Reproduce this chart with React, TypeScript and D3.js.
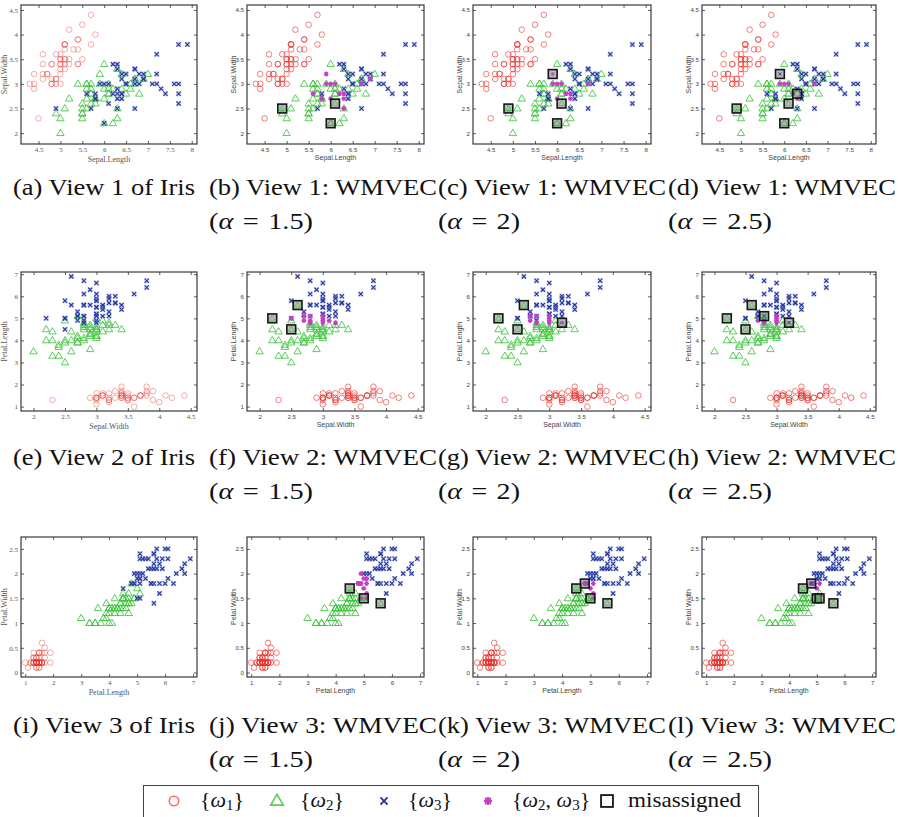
import React, { useEffect, useRef } from "react";
import * as d3 from "d3";

// Iris data, samples 1..150 (50 setosa, 50 versicolor, 50 virginica)
const sepalLength = [
  5.1, 4.9, 4.7, 4.6, 5.0, 5.4, 4.6, 5.0, 4.4, 4.9, 5.4, 4.8, 4.8, 4.3, 5.8, 5.7, 5.4, 5.1, 5.7, 5.1,
  5.4, 5.1, 4.6, 5.1, 4.8, 5.0, 5.0, 5.2, 5.2, 4.7, 4.8, 5.4, 5.2, 5.5, 4.9, 5.0, 5.5, 4.9, 4.4, 5.1,
  5.0, 4.5, 4.4, 5.0, 5.1, 4.8, 5.1, 4.6, 5.3, 5.0,
  7.0, 6.4, 6.9, 5.5, 6.5, 5.7, 6.3, 4.9, 6.6, 5.2, 5.0, 5.9, 6.0, 6.1, 5.6, 6.7, 5.6, 5.8, 6.2, 5.6,
  5.9, 6.1, 6.3, 6.1, 6.4, 6.6, 6.8, 6.7, 6.0, 5.7, 5.5, 5.5, 5.8, 6.0, 5.4, 6.0, 6.7, 6.3, 5.6, 5.5,
  5.5, 6.1, 5.8, 5.0, 5.6, 5.7, 5.7, 6.2, 5.1, 5.7,
  6.3, 5.8, 7.1, 6.3, 6.5, 7.6, 4.9, 7.3, 6.7, 7.2, 6.5, 6.4, 6.8, 5.7, 5.8, 6.4, 6.5, 7.7, 7.7, 6.0,
  6.9, 5.6, 7.7, 6.3, 6.7, 7.2, 6.2, 6.1, 6.4, 7.2, 7.4, 7.9, 6.4, 6.3, 6.1, 7.7, 6.3, 6.4, 6.0, 6.9,
  6.7, 6.9, 5.8, 6.8, 6.7, 6.7, 6.3, 6.5, 6.2, 5.9,
];
const sepalWidth = [
  3.5, 3.0, 3.2, 3.1, 3.6, 3.9, 3.4, 3.4, 2.9, 3.1, 3.7, 3.4, 3.0, 3.0, 4.0, 4.4, 3.9, 3.5, 3.8, 3.8,
  3.4, 3.7, 3.6, 3.3, 3.4, 3.0, 3.4, 3.5, 3.4, 3.2, 3.1, 3.4, 4.1, 4.2, 3.1, 3.2, 3.5, 3.6, 3.0, 3.4,
  3.5, 2.3, 3.2, 3.5, 3.8, 3.0, 3.8, 3.2, 3.7, 3.3,
  3.2, 3.2, 3.1, 2.3, 2.8, 2.8, 3.3, 2.4, 2.9, 2.7, 2.0, 3.0, 2.2, 2.9, 2.9, 3.1, 3.0, 2.7, 2.2, 2.5,
  3.2, 2.8, 2.5, 2.8, 2.9, 3.0, 2.8, 3.0, 2.9, 2.6, 2.4, 2.4, 2.7, 2.7, 3.0, 3.4, 3.1, 2.3, 3.0, 2.5,
  2.6, 3.0, 2.6, 2.3, 2.7, 3.0, 2.9, 2.9, 2.5, 2.8,
  3.3, 2.7, 3.0, 2.9, 3.0, 3.0, 2.5, 2.9, 2.5, 3.6, 3.2, 2.7, 3.0, 2.5, 2.8, 3.2, 3.0, 3.8, 2.6, 2.2,
  3.2, 2.8, 2.8, 2.7, 3.3, 3.2, 2.8, 3.0, 2.8, 3.0, 2.8, 3.8, 2.8, 2.8, 2.6, 3.0, 3.4, 3.1, 3.0, 3.1,
  3.1, 3.1, 2.7, 3.2, 3.3, 3.0, 2.5, 3.0, 3.4, 3.0,
];
const petalLength = [
  1.4, 1.4, 1.3, 1.5, 1.4, 1.7, 1.4, 1.5, 1.4, 1.5, 1.5, 1.6, 1.4, 1.1, 1.2, 1.5, 1.3, 1.4, 1.7, 1.5,
  1.7, 1.5, 1.0, 1.7, 1.9, 1.6, 1.6, 1.5, 1.4, 1.6, 1.6, 1.5, 1.5, 1.4, 1.5, 1.2, 1.3, 1.4, 1.3, 1.5,
  1.3, 1.3, 1.3, 1.6, 1.9, 1.4, 1.6, 1.4, 1.5, 1.4,
  4.7, 4.5, 4.9, 4.0, 4.6, 4.5, 4.7, 3.3, 4.6, 3.9, 3.5, 4.2, 4.0, 4.7, 3.6, 4.4, 4.5, 4.1, 4.5, 3.9,
  4.8, 4.0, 4.9, 4.7, 4.3, 4.4, 4.8, 5.0, 4.5, 3.5, 3.8, 3.7, 3.9, 5.1, 4.5, 4.5, 4.7, 4.4, 4.1, 4.0,
  4.4, 4.6, 4.0, 3.3, 4.2, 4.2, 4.2, 4.3, 3.0, 4.1,
  6.0, 5.1, 5.9, 5.6, 5.8, 6.6, 4.5, 6.3, 5.8, 6.1, 5.1, 5.3, 5.5, 5.0, 5.1, 5.3, 5.5, 6.7, 6.9, 5.0,
  5.7, 4.9, 6.7, 4.9, 5.7, 6.0, 4.8, 4.9, 5.6, 5.8, 6.1, 6.4, 5.6, 5.1, 5.6, 6.1, 5.6, 5.5, 4.8, 5.4,
  5.6, 5.1, 5.1, 5.9, 5.7, 5.2, 5.0, 5.2, 5.4, 5.1,
];
const petalWidth = [
  0.2, 0.2, 0.2, 0.2, 0.2, 0.4, 0.3, 0.2, 0.2, 0.1, 0.2, 0.2, 0.1, 0.1, 0.2, 0.4, 0.4, 0.3, 0.3, 0.3,
  0.2, 0.4, 0.2, 0.5, 0.2, 0.2, 0.4, 0.2, 0.2, 0.2, 0.2, 0.4, 0.1, 0.2, 0.2, 0.2, 0.2, 0.1, 0.2, 0.2,
  0.3, 0.3, 0.2, 0.6, 0.4, 0.3, 0.2, 0.2, 0.2, 0.2,
  1.4, 1.5, 1.5, 1.3, 1.5, 1.3, 1.6, 1.0, 1.3, 1.4, 1.0, 1.5, 1.0, 1.4, 1.3, 1.4, 1.5, 1.0, 1.5, 1.1,
  1.8, 1.3, 1.5, 1.2, 1.3, 1.4, 1.4, 1.7, 1.5, 1.0, 1.1, 1.0, 1.2, 1.6, 1.5, 1.6, 1.5, 1.3, 1.3, 1.3,
  1.2, 1.4, 1.2, 1.0, 1.3, 1.2, 1.3, 1.3, 1.1, 1.3,
  2.5, 1.9, 2.1, 1.8, 2.2, 2.1, 1.7, 1.8, 1.8, 2.5, 2.0, 1.9, 2.1, 2.0, 2.4, 2.3, 1.8, 2.2, 2.3, 1.5,
  2.3, 2.0, 2.0, 1.8, 2.1, 1.8, 1.8, 1.8, 2.1, 1.6, 1.9, 2.0, 2.2, 1.5, 1.4, 2.3, 2.4, 1.8, 1.8, 2.1,
  2.4, 2.3, 1.9, 2.3, 2.5, 2.3, 1.9, 2.0, 2.3, 1.8,
];
const classSizes = [50, 50, 50];

// WMVEC results, sample numbers (1-based)
const alphas = ["1.5", "2", "2.5"];
const ambiguous15 = [53, 71, 78, 84, 102, 122, 124, 127, 128, 134, 139, 143, 147, 150];
const ambiguous2 = [78, 84, 124, 127, 128, 134, 139, 150];
const ambiguous25 = [78, 124, 127, 128, 139, 150];
const misassigned15 = [107, 120, 135];
const misLabels15 = ["w2", "w2", "w2"];
const misassigned2 = [71, 107, 120, 135];
const misLabels2 = ["w23", "w2", "w2", "w2"];
const misassigned25 = [71, 107, 120, 134, 135];
const misLabels25 = ["w3", "w2", "w2", "w2", "w2"];

// views
const viewX = [sepalLength, sepalWidth, petalLength];
const viewY = [sepalWidth, petalLength, petalWidth];
const xLabels = ["Sepal.Length", "Sepal.Width", "Petal.Length"];
const yLabels = ["Sepal.Width", "Petal.Length", "Petal.Width"];
const xDomains = [[4.1, 8.12], [1.8, 4.6], [0.85, 7.14]];
const yDomains = [[1.78, 4.6], [0.8, 7.1], [-0.09, 2.74]];
const xTicks = [
  [4.5, 5, 5.5, 6, 6.5, 7, 7.5, 8],
  [2, 2.5, 3, 3.5, 4, 4.5],
  [1, 2, 3, 4, 5, 6, 7],
];
const yTicks = [
  [2, 2.5, 3, 3.5, 4, 4.5],
  [1, 2, 3, 4, 5, 6, 7],
  [0, 0.5, 1, 1.5, 2, 2.5],
];

const colLeft = [21, 247, 473, 702];
const colRight = [197, 424, 651, 876];
const rowTop = [5, 272, 537];
const rowBottom = [144, 411, 677];
const capX = [13, 209, 438, 668];
const capY = [195, 465, 733];

const SERIF = "'Liberation Serif', 'DejaVu Serif', serif";
const SANS = "'Liberation Sans', Arial, Helvetica, sans-serif";

const RED = "#e8352e";
const GREEN = "#3ec63e";
const BLUE = "#22339b";
const PURPLE = "#c53ec5";

function marker(g, kind, cx, cy, faded, s = 1) {
  if (kind === "w1") {
    g.append("circle")
      .attr("cx", cx).attr("cy", cy).attr("r", 2.8 * s)
      .attr("fill", "none").attr("stroke", RED)
      .attr("stroke-width", 0.9 * s)
      .attr("stroke-opacity", faded ? 0.45 : 0.7);
  } else if (kind === "w2") {
    g.append("path")
      .attr("d", `M${cx},${cy - 3.9 * s}L${cx + 3.7 * s},${cy + 2.4 * s}L${cx - 3.7 * s},${cy + 2.4 * s}Z`)
      .attr("fill", "none").attr("stroke", GREEN)
      .attr("stroke-width", 1 * s)
      .attr("stroke-opacity", 0.85);
  } else if (kind === "w3") {
    const h = 2.1 * s;
    if (s === 1)
      g.append("rect")
        .attr("x", cx - 2.6).attr("y", cy - 2.6).attr("width", 5.2).attr("height", 5.2)
        .attr("fill", "#8898e0").attr("fill-opacity", 0.35);
    g.append("path")
      .attr("d", `M${cx - h},${cy - h}L${cx + h},${cy + h}M${cx - h},${cy + h}L${cx + h},${cy - h}`)
      .attr("stroke", BLUE).attr("stroke-width", 1.1 * s);
  } else if (kind === "w23") {
    const h = 2.4 * s;
    const d = h * 0.72;
    g.append("path")
      .attr("d", `M${cx - h},${cy}L${cx + h},${cy}M${cx},${cy - h}L${cx},${cy + h}M${cx - d},${cy - d}L${cx + d},${cy + d}M${cx - d},${cy + d}L${cx + d},${cy - d}`)
      .attr("stroke", PURPLE).attr("stroke-width", 1.2 * s);
  } else if (kind === "mis") {
    const h = 4.4 * s;
    g.append("rect")
      .attr("x", cx - h).attr("y", cy - h).attr("width", 2 * h).attr("height", 2 * h)
      .attr("fill", s === 1 ? "#666" : "none").attr("fill-opacity", 0.45)
      .attr("stroke", "#151515").attr("stroke-width", s === 1 ? 1.6 : 1.8);
  }
}

function App() {
  const ref = useRef(null);

  useEffect(() => {
    const svg = d3.select(ref.current);
    svg.selectAll("*").remove();

    const trueClass = (i) => {
      let acc = 0;
      for (let c = 0; c < classSizes.length; c++) {
        acc += classSizes[c];
        if (i < acc) return ["w1", "w2", "w3"][c];
      }
      return "w3";
    };
    const results = [
      null,
      { amb: ambiguous15, mis: misassigned15, lab: misLabels15 },
      { amb: ambiguous2, mis: misassigned2, lab: misLabels2 },
      { amb: ambiguous25, mis: misassigned25, lab: misLabels25 },
    ];

    for (let r = 0; r < 3; r++) {
      for (let c = 0; c < 4; c++) {
        const orig = c === 0;
        const x = d3.scaleLinear().domain(xDomains[r]).range([colLeft[c], colRight[c]]);
        const y = d3.scaleLinear().domain(yDomains[r]).range([rowBottom[r], rowTop[r]]);
        const g = svg.append("g");
        const font = orig ? SERIF : SANS;
        const tickSize = orig ? 7 : 6.2;
        const labelSize = orig ? 8 : 7;
        const txtColor = orig ? "#555" : "#444";

        g.append("rect")
          .attr("x", colLeft[c]).attr("y", rowTop[r])
          .attr("width", colRight[c] - colLeft[c]).attr("height", rowBottom[r] - rowTop[r])
          .attr("fill", "#fff").attr("stroke", "#3a3a3a").attr("stroke-width", 1.2);

        const axes = [
          [d3.axisBottom(x), rowBottom[r], true, "x"],
          [d3.axisTop(x), rowTop[r], false, "x"],
          [d3.axisLeft(y), colLeft[c], true, "y"],
          [d3.axisRight(y), colRight[c], false, "y"],
        ];
        axes.forEach(([ax, pos, labels, dir]) => {
          ax.tickValues(dir === "x" ? xTicks[r] : yTicks[r])
            .tickSizeInner(-3).tickSizeOuter(0).tickPadding(dir === "x" ? 3.5 : 3)
            .tickFormat(labels ? d3.format("~g") : () => "");
          const a = g.append("g")
            .attr("transform", dir === "x" ? `translate(0,${pos})` : `translate(${pos},0)`)
            .call(ax);
          a.select(".domain").remove();
          a.selectAll("line").attr("stroke", "#333").attr("stroke-width", 0.8);
          a.selectAll("text")
            .attr("font-family", font).attr("font-size", tickSize).attr("fill", txtColor);
        });

        g.append("text")
          .attr("x", (colLeft[c] + colRight[c]) / 2)
          .attr("y", rowBottom[r] + (orig ? 17.5 : 16))
          .attr("text-anchor", "middle")
          .attr("font-family", font).attr("font-size", labelSize).attr("fill", txtColor)
          .text(xLabels[r]);
        g.append("text")
          .attr("transform", `translate(${colLeft[c] - (orig ? 14 : 11)},${(rowTop[r] + rowBottom[r]) / 2}) rotate(-90)`)
          .attr("text-anchor", "middle")
          .attr("font-family", font).attr("font-size", labelSize).attr("fill", txtColor)
          .text(yLabels[r]);

        // points
        const res = results[c];
        const kinds = viewX[r].map((_, i) => {
          if (!res) return trueClass(i);
          const mi = res.mis.indexOf(i + 1);
          if (mi >= 0) return res.lab[mi];
          if (res.amb.includes(i + 1)) return "w23";
          return trueClass(i);
        });
        const pg = g.append("g");
        ["w1", "w2", "w3", "w23"].forEach((k) => {
          kinds.forEach((kk, i) => {
            if (kk !== k) return;
            if (res && res.mis.includes(i + 1)) return;
            marker(pg, k, x(viewX[r][i]), y(viewY[r][i]), orig);
          });
        });
        if (res) {
          res.mis.forEach((n, j) => {
            const cx = x(viewX[r][n - 1]);
            const cy = y(viewY[r][n - 1]);
            marker(pg, "mis", cx, cy, false);
            marker(pg, res.lab[j], cx, cy, false, 0.8);
          });
        }

        // caption
        const letter = "abcdefghijkl"[r * 4 + c];
        const cap = svg.append("text")
          .attr("x", capX[c]).attr("y", capY[r])
          .attr("font-family", SERIF).attr("font-size", 23)
          .attr("fill", "#111");
        if (orig) {
          cap.text(`(${letter}) View ${r + 1} of Iris`)
            .attr("textLength", 182).attr("lengthAdjust", "spacingAndGlyphs");
        } else {
          cap.text(`(${letter}) View ${r + 1}: WMVEC`)
            .attr("textLength", 228).attr("lengthAdjust", "spacingAndGlyphs");
          const cap2 = svg.append("text")
            .attr("x", capX[c]).attr("y", capY[r] + 34)
            .attr("font-family", SERIF).attr("font-size", 24)
            .attr("fill", "#111");
          cap2.append("tspan").text("(");
          cap2.append("tspan").attr("font-style", "italic").text("α");
          cap2.append("tspan").text(`\u200A = \u200A${alphas[c - 1]})`);
          cap2.attr("textLength", alphas[c - 1].length > 1 ? 104 : 82)
            .attr("lengthAdjust", "spacingAndGlyphs");
        }
      }
    }

    // legend
    const lg = svg.append("g");
    lg.append("rect")
      .attr("x", 143.5).attr("y", 785.5).attr("width", 615).attr("height", 40)
      .attr("fill", "#fff").attr("stroke", "#444").attr("stroke-width", 1);
    const legendKeys = ["w1", "w2", "w3", "w23", "mis"];
    const legendMarkX = [174, 277, 384, 488, 607];
    const legendTextX = [200, 300, 408, 512, 628];
    const legendSubs = [["1"], ["2"], ["3"], ["2", "3"], null];
    const cy = 801;
    legendKeys.forEach((k, i) => {
      marker(lg, k, legendMarkX[i], cy, false, k === "mis" ? 1.35 : 1.7);
      const t = lg.append("text")
        .attr("x", legendTextX[i]).attr("y", cy + 6)
        .attr("font-family", SERIF).attr("font-size", 22)
        .attr("fill", "#111");
      const subs = legendSubs[i];
      if (!subs) {
        t.text("misassigned").attr("textLength", 113).attr("lengthAdjust", "spacingAndGlyphs");
        return;
      }
      t.append("tspan").text("{");
      subs.forEach((s, j) => {
        if (j > 0) t.append("tspan").attr("dy", -3).text(", ");
        t.append("tspan").attr("font-style", "italic").text("ω");
        t.append("tspan").attr("font-size", 15).attr("dy", 3).text(s);
      });
      t.append("tspan").attr("dy", -3).text("}");
    });
  }, []);

  return (
    <svg
      ref={ref}
      width={903}
      height={817}
      style={{ position: "absolute", left: 0, top: 0, background: "#fff" }}
    />
  );
}

export default App;
